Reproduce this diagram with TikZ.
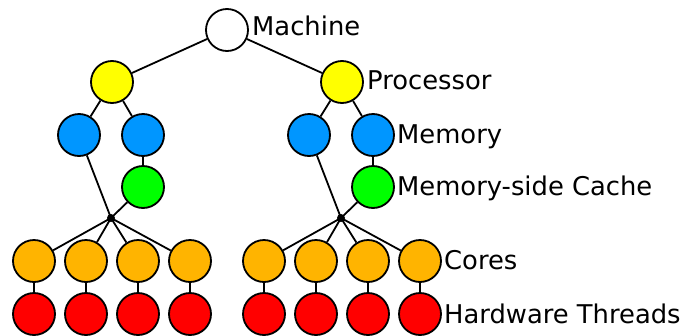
\documentclass[tikz,border=0pt]{standalone}
\usepackage{fontspec}
\setmainfont{DejaVu Sans}
\definecolor{cyel}{RGB}{255,255,0}
\definecolor{cblue}{RGB}{0,150,255}
\definecolor{cgreen}{RGB}{0,255,0}
\definecolor{corange}{RGB}{255,180,0}
\definecolor{cred}{RGB}{255,0,0}
\begin{document}
\begin{tikzpicture}[x=1pt,y=-1pt,
  obj/.style={circle,draw=black,line width=1.8pt,minimum size=42pt,inner sep=0pt},
  dot/.style={circle,fill=black,minimum size=8pt,inner sep=0pt},
  lab/.style={anchor=base west,inner sep=0pt,font=\fontsize{25.8}{30}\selectfont},
  edge/.style={line width=1.8pt}]
\useasboundingbox (0,0) rectangle (696,335);
% machine and processors
\node[obj,fill=white] (m) at (227,30) {};
\node[obj,fill=cyel] (p1) at (112,82) {};
\node[obj,fill=cyel] (p2) at (342,82) {};
% memories
\node[obj,fill=cblue] (m1a) at (79,135) {};
\node[obj,fill=cblue] (m1b) at (143,135) {};
\node[obj,fill=cblue] (m2a) at (309,135) {};
\node[obj,fill=cblue] (m2b) at (373,135) {};
% caches
\node[obj,fill=cgreen] (c1) at (143,187) {};
\node[obj,fill=cgreen] (c2) at (373,187) {};
% junctions
\node[dot] (j1) at (111,218) {};
\node[dot] (j2) at (341,218) {};
% cores and threads
\foreach \i/\x in {1/34,2/86,3/138,4/190,5/264,6/316,7/368,8/420}{
  \node[obj,fill=corange] (k\i) at (\x,261) {};
  \node[obj,fill=cred] (t\i) at (\x,314) {};
  \draw[edge] (k\i) -- (t\i);
}
\draw[edge] (m) -- (p1);
\draw[edge] (m) -- (p2);
\draw[edge] (p1) -- (m1a);
\draw[edge] (p1) -- (m1b);
\draw[edge] (p2) -- (m2a);
\draw[edge] (p2) -- (m2b);
\draw[edge] (m1a) -- (j1.center);
\draw[edge] (m1b) -- (c1);
\draw[edge] (c1) -- (j1.center);
\draw[edge] (m2a) -- (j2.center);
\draw[edge] (m2b) -- (c2);
\draw[edge] (c2) -- (j2.center);
\foreach \i in {1,2,3,4}{\draw[edge] (j1.center) -- (k\i);}
\foreach \i in {5,6,7,8}{\draw[edge] (j2.center) -- (k\i);}
% labels
\node[lab] (lm) at (252,35) {Machine};
\node[lab] (lp) at (367,89) {Processor};
\node[lab] (lmem) at (397,143) {Memory};
\node[lab] (lc) at (397,195) {Memory-side Cache};
\node[lab] (lk) at (444,269) {Cores};
\node[lab] (lt) at (444,323) {Hardware Threads};
\end{tikzpicture}
\end{document}
